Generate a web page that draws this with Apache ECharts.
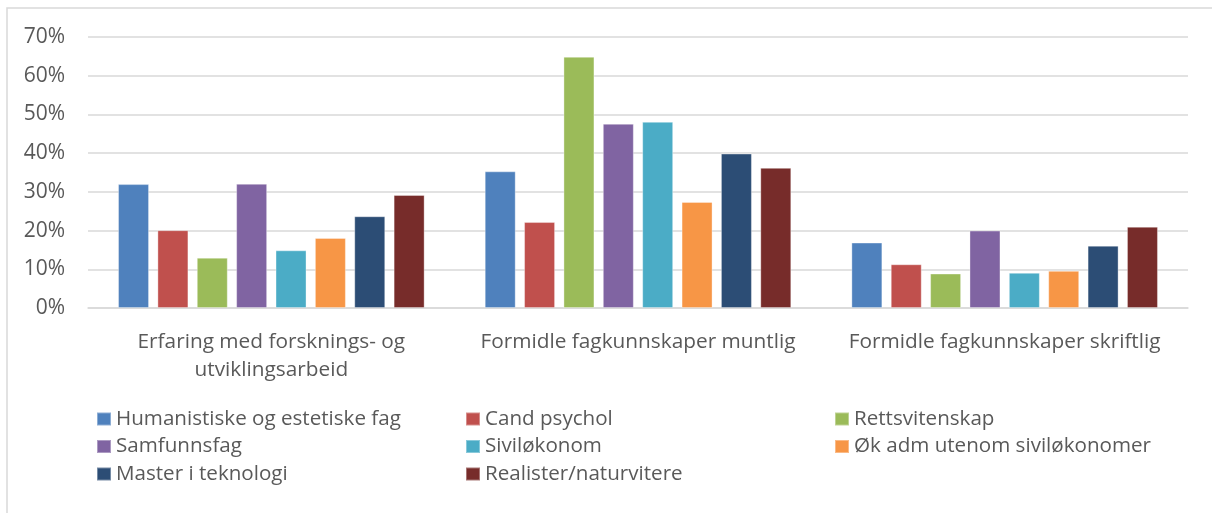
<!DOCTYPE html>
<html>
<head>
<meta charset="utf-8">
<script src="https://cdn.jsdelivr.net/npm/echarts@6/dist/echarts.min.js"></script>
<style>
  html, body { margin: 0; padding: 0; background: #fff; }
  #chart { width: 1212px; height: 513px; }
</style>
</head>
<body>
<div id="chart"></div>
<script>
var categories = ['Erfaring med forsknings- og\nutviklingsarbeid', 'Formidle fagkunnskaper muntlig', 'Formidle fagkunnskaper skriftlig'];
var seriesNames = ['Humanistiske og estetiske fag', 'Cand psychol', 'Rettsvitenskap', 'Samfunnsfag', 'Siviløkonom', 'Øk adm utenom siviløkonomer', 'Master i teknologi', 'Realister/naturvitere'];
var colors = ['#4F81BD', '#C0504D', '#9BBB59', '#8064A2', '#4BACC6', '#F79646', '#2C4D75', '#772C2A'];
// verdier i prosent, per serie: [forskning, muntlig, skriftlig]
var humanistiske = [32.0, 35.3, 16.9];
var candPsychol = [20.1, 22.2, 11.3];
var rettsvitenskap = [13.0, 64.9, 8.9];
var samfunnsfag = [32.1, 47.6, 20.0];
var sivilokonom = [14.9, 48.1, 9.1];
var okAdm = [18.1, 27.4, 9.6];
var masterTeknologi = [23.7, 39.9, 16.1];
var realister = [29.2, 36.2, 21.0];
var seriesData = [humanistiske, candPsychol, rettsvitenskap, samfunnsfag, sivilokonom, okAdm, masterTeknologi, realister];

var font = 'Open Sans';
var textColor = '#595959';

var chart = echarts.init(document.getElementById('chart'));

var series = [];
var legends = [];
var legendCols = [96, 465, 834];
var legendRows = [419, 446.5, 474];
for (var i = 0; i < seriesNames.length; i++) {
	series.push({
		name: seriesNames[i],
		type: 'bar',
		data: seriesData[i],
		barWidth: 31,
		barGap: '27%',
		itemStyle: {
			color: colors[i],
			borderColor: 'rgba(255,255,255,0.35)',
			borderWidth: 1
		}
	});
	legends.push({
		data: [seriesNames[i]],
		left: legendCols[i % 3],
		top: legendRows[Math.floor(i / 3)] - 11,
		padding: 0,
		itemWidth: 14,
		itemHeight: 13,
		icon: 'rect',
		selectedMode: false,
		textStyle: { fontFamily: font, fontSize: 20.6, color: textColor, lineHeight: 22 }
	});
}

var option = {
	animation: false,
	graphic: [{
		type: 'rect',
		shape: { x: 7, y: 8, width: 1230, height: 540 },
		style: { fill: 'none', stroke: '#d9d9d9', lineWidth: 1.5 },
		silent: true
	}],
	grid: { left: 88, right: 24, top: 37, bottom: 205, containLabel: false },
	legend: legends,
	xAxis: {
		type: 'category',
		data: categories,
		axisLine: { lineStyle: { color: '#d9d9d9', width: 1.5 } },
		axisTick: { show: false },
		axisLabel: { interval: 0, hideOverlap: false, fontFamily: font, fontSize: 20.8, color: textColor, lineHeight: 28, margin: 20 }
	},
	yAxis: {
		type: 'value',
		min: 0,
		max: 70,
		interval: 10,
		axisLine: { show: false },
		axisTick: { show: false },
		splitLine: { lineStyle: { color: '#d9d9d9', width: 1.5 } },
		axisLabel: { fontFamily: font, fontSize: 21, color: textColor, margin: 23, formatter: '{value}%' }
	},
	series: series
};
chart.setOption(option);
</script>
</body>
</html>
